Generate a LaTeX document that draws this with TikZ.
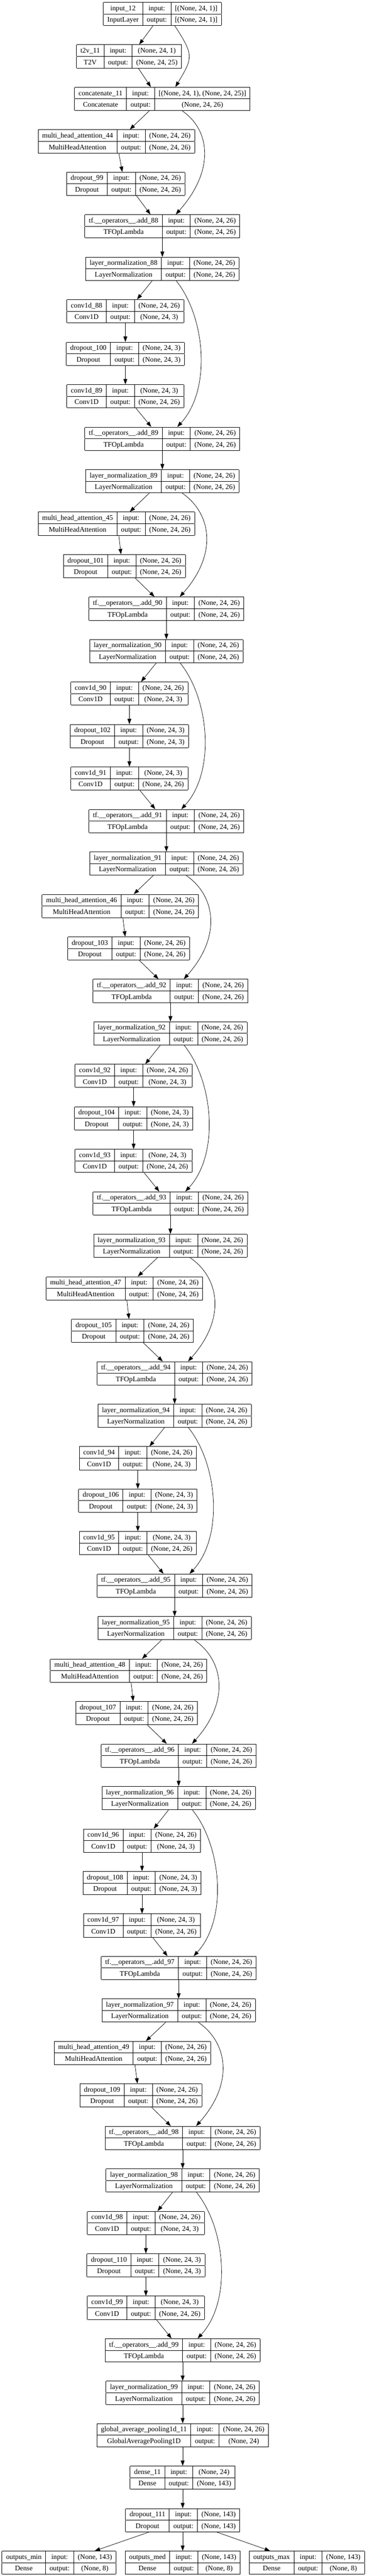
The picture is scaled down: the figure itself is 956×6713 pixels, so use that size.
\documentclass[tikz,border=0pt]{standalone}
\usepackage{fontspec}
\setmainfont{Liberation Serif}
\usetikzlibrary{arrows.meta}
\setlength{\tabcolsep}{10.5pt}
\setlength{\arrayrulewidth}{1.3pt}

\begin{document}
\begin{tikzpicture}[x=1pt, y=-1pt,
    lbox/.style = {anchor=north, inner sep=0pt, outer sep=0pt, font=\fontsize{18.5}{29}\selectfont},
    flow/.style = {line width=1pt, -{Triangle[length=14pt, width=10pt]}}]

    \path[fill=white] (0,0) rectangle (956,6713);
    % one keras layer: name, x centre, level, layer name, class, input shape, output shape
    \def\layerbox#1#2#3#4#5#6#7{\node[lbox] (#1) at (#2, {5.4+110.7*(#3)}) {\begin{tabular}{|c|c|c|}\hline #4 & input: & #6\\\hline #5 & output: & #7\\\hline\end{tabular}};}

    %%%%%%%%%%%%%%%%%%% Input
    \layerbox{in12}{423.5}{0}{input\_12}{InputLayer}{[(None, 24, 1)]}{[(None, 24, 1)]}
    \layerbox{t2v}{336.5}{1}{t2v\_11}{T2V}{(None, 24, 1)}{(None, 24, 25)}
    \layerbox{cat}{423.5}{2}{concatenate\_11}{Concatenate}{[(None, 24, 1), (None, 24, 25)]}{(None, 24, 26)}

    %%%%%%%%%%%%%%%%%%% Attention blocks
    \foreach \mh/\dn/\ad/\lv/\xm/\xd/\xa in {44/99/88/2/303.5/328/423.5, 45/101/90/11/303.5/324.5/434,
        46/103/92/20/314/335.5/444.5, 47/105/94/29/324.5/345.5/455.5,
        48/107/96/38/335.5/356.5/466, 49/109/98/47/345.5/367.5/476.5} {
        \layerbox{mha\mh}{\xm}{\lv+1}{multi\_head\_attention\_\mh}{MultiHeadAttention}{(None, 24, 26)}{(None, 24, 26)}
        \layerbox{drop\dn}{\xd}{\lv+2}{dropout\_\dn}{Dropout}{(None, 24, 26)}{(None, 24, 26)}
        \layerbox{add\ad}{\xa}{\lv+3}{tf.\_\_operators\_\_.add\_\ad}{TFOpLambda}{(None, 24, 26)}{(None, 24, 26)}
        \layerbox{ln\ad}{\xa}{\lv+4}{layer\_normalization\_\ad}{LayerNormalization}{(None, 24, 26)}{(None, 24, 26)}
    }

    %%%%%%%%%%%%%%%%%%% Conv blocks
    \foreach \cv/\cw/\dn/\ad/\lv/\xa/\xc in {88/89/100/89/6/423.5/327, 90/91/102/91/15/434/337.5,
        92/93/104/93/24/444.5/348.5, 94/95/106/95/33/455.5/359.5,
        96/97/108/97/42/466/370.5, 98/99/110/99/51/476.5/380.5} {
        \layerbox{conv\cv}{\xc}{\lv+1}{conv1d\_\cv}{Conv1D}{(None, 24, 26)}{(None, 24, 3)}
        \layerbox{drop\dn}{\xc}{\lv+2}{dropout\_\dn}{Dropout}{(None, 24, 3)}{(None, 24, 3)}
        \layerbox{conv\cw}{\xc}{\lv+3}{conv1d\_\cw}{Conv1D}{(None, 24, 3)}{(None, 24, 26)}
        \layerbox{add\ad}{\xa}{\lv+4}{tf.\_\_operators\_\_.add\_\ad}{TFOpLambda}{(None, 24, 26)}{(None, 24, 26)}
        \layerbox{ln\ad}{\xa}{\lv+5}{layer\_normalization\_\ad}{LayerNormalization}{(None, 24, 26)}{(None, 24, 26)}
    }

    %%%%%%%%%%%%%%%%%%% Head
    \layerbox{gap}{476.5}{57}{global\_average\_pooling1d\_11}{GlobalAveragePooling1D}{(None, 24, 26)}{(None, 24)}
    \layerbox{dense}{476.5}{58}{dense\_11}{Dense}{(None, 24)}{(None, 143)}
    \layerbox{drop111}{476.5}{59}{dropout\_111}{Dropout}{(None, 143)}{(None, 143)}
    \layerbox{outmin}{154}{60}{outputs\_min}{Dense}{(None, 143)}{(None, 8)}
    \layerbox{outmed}{476.5}{60}{outputs\_med}{Dense}{(None, 143)}{(None, 8)}
    \layerbox{outmax}{800.5}{60}{outputs\_max}{Dense}{(None, 143)}{(None, 8)}

    % connectors
    \draw[flow] ([xshift=-24.5pt]in12.south) -- ([xshift=26.5pt]t2v.north);
    \draw[flow] ([xshift=24.5pt]t2v.south) -- ([xshift=-30pt]cat.north);
    \draw[flow] ([xshift=32.5pt]in12.south) .. controls +(50,77) and +(46,-77) .. ([xshift=34pt]cat.north); % skip

    \foreach \mh/\dn/\ad/\src in {44/99/88/cat, 45/101/90/ln89, 46/103/92/ln91, 47/105/94/ln93, 48/107/96/ln95, 49/109/98/ln97} {
        \draw[flow] ([xshift=-34pt]\src.south) -- ([xshift=35pt]mha\mh.north);
        \draw[flow] ([xshift=6.5pt]mha\mh.south) -- ([xshift=-9pt]drop\dn.north);
        \draw[flow] ([xshift=28pt]drop\dn.south) -- ([xshift=-31pt]add\ad.north);
        \draw[flow] ([xshift=51.5pt]\src.south) .. controls +(76,52) and +(100,-112) .. ([xshift=35pt]add\ad.north); % skip
        \draw[flow] (add\ad.south) -- (ln\ad.north);
    }
    \foreach \cv/\cw/\dn/\ad/\src in {88/89/100/89/ln88, 90/91/102/91/ln90, 92/93/104/93/ln92, 94/95/106/95/ln94, 96/97/108/97/ln96, 98/99/110/99/ln98} {
        \draw[flow] ([xshift=-26.5pt]\src.south) -- ([xshift=30.5pt]conv\cv.north);
        \draw[flow] (conv\cv.south) -- (drop\dn.north);
        \draw[flow] (drop\dn.south) -- (conv\cw.north);
        \draw[flow] ([xshift=27.5pt]conv\cw.south) -- ([xshift=-29pt]add\ad.north);
        \draw[flow] ([xshift=36pt]\src.south) .. controls +(77,96) and +(89,-96) .. ([xshift=39pt]add\ad.north); % skip
        \draw[flow] (add\ad.south) -- (ln\ad.north);
    }

    \draw[flow] (ln99.south) -- (gap.north);
    \draw[flow] (gap.south) -- (dense.north);
    \draw[flow] (dense.south) -- (drop111.north);
    \draw[flow] ([xshift=-88pt]drop111.south) -- ([xshift=93pt]outmin.north);
    \draw[flow] (drop111.south) -- (outmed.north);
    \draw[flow] ([xshift=89pt]drop111.south) -- ([xshift=-96pt]outmax.north);

\end{tikzpicture}
\end{document}
